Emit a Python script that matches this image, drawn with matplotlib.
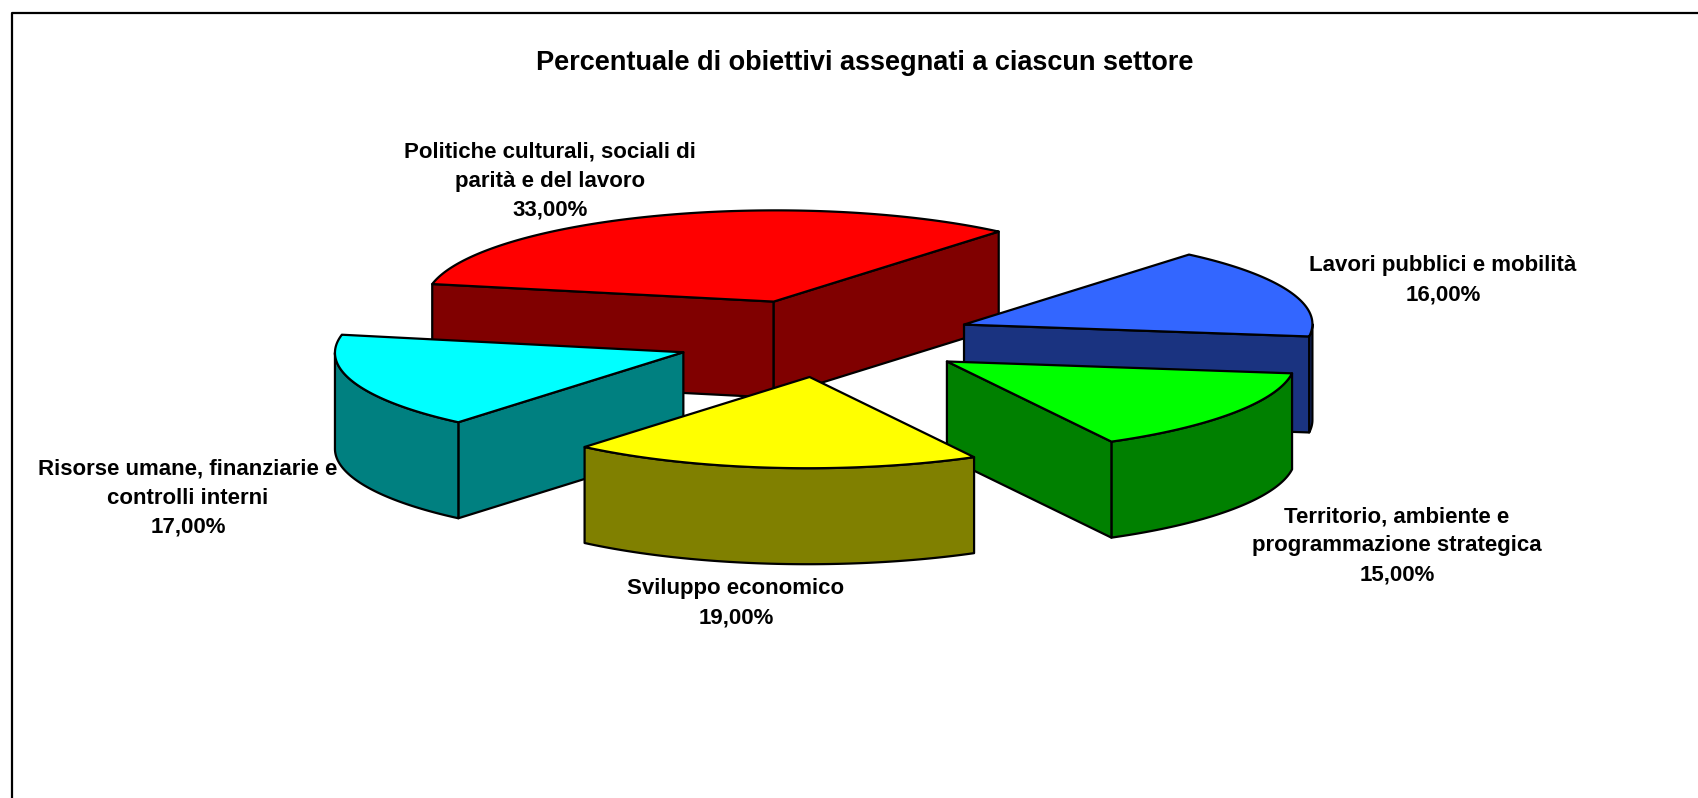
import numpy as np
import matplotlib
matplotlib.use("Agg")
import matplotlib.pyplot as plt
from matplotlib.patches import Polygon

# values of the slices, clockwise from the red/blue boundary going round
sectors = ["Lavori pubblici e mobilità", "Territorio, ambiente e\nprogrammazione strategica",
           "Sviluppo economico", "Risorse umane, finanziarie e\ncontrolli interni",
           "Politiche culturali, sociali di\nparità e del lavoro"]
percent = [16, 15, 19, 17, 33]
top_colors = ["#3366FF", "#00FF00", "#FFFF00", "#00FFFF", "#FF0000"]
wall_colors = ["#1A3380", "#008000", "#808000", "#008080", "#800000"]
label_pos = [(1443, 280), (1397, 546), (736, 603), (188, 498), (550, 181)]

plt.rcParams["font.family"] = ["Liberation Sans", "DejaVu Sans"]

# projection of the pie, in pixels of the picture
center = np.array([823.5, 339.0])
axis_u = np.array([225.0, -70.0])
axis_v = np.array([266.0, 58.5])
height = 96.0
explode = 0.435
# small corrections of where each exploded slice sits
nudge = [(-1, 0), (-1, 0), (2, -1.5), (3, 0), (0, 0)]


def rim(phi):
    phi = np.asarray(phi)
    return np.outer(np.cos(phi), axis_u) + np.outer(np.sin(phi), axis_v)


def wall(ax, pts, color):
    pts = np.asarray(pts)
    low = pts[::-1] + [0, height]
    ax.add_patch(Polygon(np.vstack([pts, low]), closed=True, fc=color, ec="black", lw=1.6, joinstyle="round"))


def draw_slice(ax, start, stop, top, dark, shift):
    phi = np.radians(np.linspace(start, stop, 200))
    mid = np.radians((start + stop) / 2)
    apex = center + explode * rim([mid])[0] + shift
    arc = apex + rim(phi)
    outline = np.vstack([apex, arc, apex])

    # a wall shows when the clockwise outline runs leftwards on screen
    if arc[0, 0] < apex[0]:
        wall(ax, [apex, arc[0]], dark)
    idx = np.where(np.diff(arc[:, 0]) < 0)[0]
    if len(idx):
        wall(ax, arc[idx[0]:idx[-1] + 2], dark)
    if arc[-1, 0] > apex[0]:
        wall(ax, [arc[-1], apex], dark)
    ax.add_patch(Polygon(outline, closed=True, fc=top, ec="black", lw=1.6, joinstyle="round"))


fig = plt.figure(figsize=(16.99, 7.98), dpi=100)
ax = fig.add_axes([0, 0, 1, 1])
ax.set_xlim(0, 1699)
ax.set_ylim(798, 0)
ax.axis("off")

# chart frame
ax.plot([12, 12, 1699], [798, 13, 13], color="black", lw=1.6)

ax.text(865, 63, "Percentuale di obiettivi assegnati a ciascun settore", ha="center", va="center",
        fontsize=19.55, fontweight="bold")

# start angle of each slice, then painted back to front
starts = np.cumsum([0] + percent[:-1]) * 3.6
stops = starts + np.array(percent) * 3.6
for i in [4, 0, 3, 1, 2]:
    start = starts[i] if i != 4 else starts[i] - 360
    stop = stops[i] if i != 4 else stops[i] - 360
    draw_slice(ax, start, stop, top_colors[i], wall_colors[i], nudge[i])

for name, pct, pos in zip(sectors, percent, label_pos):
    ax.text(pos[0], pos[1], f"{name}\n{pct:.2f}%".replace(".", ","), ha="center", va="center",
            fontsize=16, fontweight="bold", linespacing=1.53)

fig.savefig("out.png", dpi=100, facecolor="white")
